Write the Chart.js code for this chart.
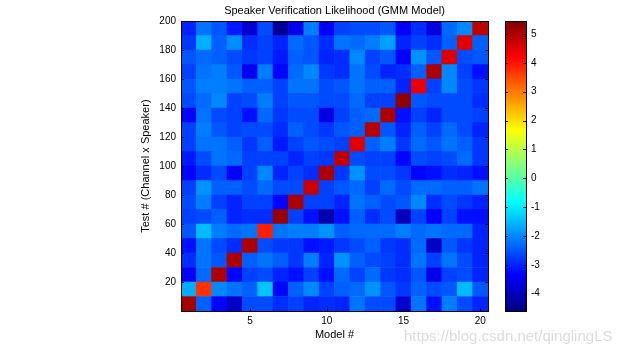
<!DOCTYPE html>
<html>
<head>
<meta charset="utf-8">
<script src="https://cdn.jsdelivr.net/npm/chart.js@4"></script>
<style>
  html, body { margin: 0; padding: 0; background: #fff; }
  #wrap { position: relative; width: 635px; height: 355px; overflow: hidden; }
  #main { position: absolute; left: 0; top: 0; }
  #cbar { position: absolute; left: 495px; top: 0; }
  #mark { position: absolute; left: 404px; top: 327px; font: 15px "Liberation Sans", Arial, sans-serif; color: #dcdcdc; white-space: nowrap; }
</style>
</head>
<body>
<div id="wrap">
  <canvas id="main" width="500" height="355"></canvas>
  <canvas id="cbar" width="140" height="355"></canvas>
  <div id="mark">https://blog.csdn.net/qinglingLS</div>
</div>
<script>
const models = [1, 2, 3, 4, 5, 6, 7, 8, 9, 10, 11, 12, 13, 14, 15, 16, 17, 18, 19, 20];
const channels = 10; // tests per speaker block
const yTicks = [20, 40, 60, 80, 100, 120, 140, 160, 180, 200];
const cbarTicks = [-4, -3, -2, -1, 0, 1, 2, 3, 4, 5];
const cMin = -4.6, cMax = 5.45;

// log-likelihood, one row per speaker block (tests 1-10 first), one value per model
const likelihood = [
  [5.1, -2.4, -3.3, -3.9, -2.6, -2.6, -2.9, -2.7, -3.0, -2.9, -3.0, -2.2, -2.6, -2.6, -3.8, -2.2, -3.2, -2.1, -2.6, -3.0],
  [-1.65, 3.7, -2.0, -2.2, -2.4, -1.4, -3.3, -2.4, -2.0, -2.7, -2.4, -2.3, -1.9, -2.5, -2.8, -2.4, -2.6, -2.5, -1.5, -2.5],
  [-3.4, -2.3, 5.0, -3.3, -2.7, -2.6, -3.0, -3.2, -2.7, -3.2, -2.3, -2.7, -2.3, -2.8, -2.9, -2.5, -3.5, -2.7, -2.6, -3.0],
  [-2.9, -2.2, -2.5, 5.0, -2.4, -2.2, -2.4, -2.8, -2.1, -3.0, -1.9, -2.4, -2.6, -2.7, -2.9, -2.2, -2.7, -2.2, -2.6, -3.0],
  [-3.2, -2.2, -2.6, -2.9, 5.0, -2.6, -2.8, -2.8, -3.2, -3.1, -2.8, -2.6, -2.4, -2.8, -2.9, -2.3, -3.9, -2.5, -2.8, -3.0],
  [-2.5, -1.5, -2.1, -2.3, -2.2, 3.9, -2.2, -2.1, -2.1, -1.9, -2.4, -2.3, -2.3, -2.3, -2.1, -2.3, -2.2, -2.3, -2.3, -3.0],
  [-2.7, -2.6, -2.4, -3.0, -2.9, -2.9, 5.2, -2.7, -3.2, -4.2, -3.2, -2.4, -2.9, -2.6, -4.0, -2.7, -3.4, -2.7, -3.2, -3.2],
  [-2.6, -2.1, -2.7, -3.0, -2.7, -2.7, -3.3, 5.0, -2.7, -2.7, -3.0, -2.2, -2.4, -2.6, -2.5, -2.0, -2.9, -2.6, -2.8, -3.0],
  [-2.7, -1.9, -2.4, -2.4, -2.6, -2.3, -2.6, -2.6, 4.7, -2.7, -2.5, -2.3, -2.7, -2.3, -2.6, -2.3, -2.3, -2.4, -2.4, -2.2],
  [-3.3, -2.9, -2.6, -3.4, -2.7, -2.0, -3.0, -2.7, -2.9, 5.0, -2.8, -1.9, -2.6, -2.6, -2.8, -3.3, -3.2, -2.9, -3.0, -3.2],
  [-3.1, -2.6, -2.2, -2.3, -2.7, -2.7, -2.7, -3.0, -2.7, -2.8, 4.8, -2.6, -2.7, -2.7, -3.3, -2.6, -2.7, -2.6, -2.3, -2.8],
  [-2.7, -2.2, -2.2, -2.4, -2.8, -2.4, -3.1, -2.7, -2.5, -2.6, -2.7, 4.5, -2.4, -2.1, -2.8, -2.3, -2.5, -2.2, -2.4, -2.8],
  [-2.7, -2.1, -2.5, -2.7, -2.6, -2.6, -2.9, -2.4, -2.6, -2.8, -2.5, -2.4, 4.9, -2.5, -3.0, -2.4, -2.7, -2.3, -2.6, -3.0],
  [-3.3, -2.2, -2.6, -2.7, -3.2, -2.3, -2.8, -2.6, -2.6, -3.6, -2.7, -2.4, -2.3, 5.0, -3.2, -2.7, -3.0, -2.6, -2.6, -2.7],
  [-2.6, -2.3, -2.0, -2.7, -2.6, -2.1, -2.7, -2.5, -2.5, -2.6, -2.6, -2.3, -2.7, -2.7, 5.3, -2.5, -2.6, -2.6, -2.6, -2.9],
  [-2.5, -2.1, -2.1, -2.2, -2.4, -2.4, -2.7, -2.2, -2.2, -2.6, -2.5, -2.2, -2.4, -2.4, -3.0, 4.4, -2.7, -2.0, -2.6, -2.8],
  [-2.7, -2.2, -2.1, -2.5, -3.5, -2.1, -3.3, -2.3, -2.0, -2.8, -2.9, -2.2, -2.6, -3.0, -2.9, -2.4, 5.0, -2.0, -2.7, -3.2],
  [-2.5, -2.3, -2.4, -2.6, -2.8, -2.7, -3.1, -2.4, -2.5, -3.0, -2.9, -2.0, -2.7, -2.5, -3.4, -1.9, -2.5, 4.5, -2.6, -2.5],
  [-2.8, -1.6, -2.4, -1.95, -2.9, -2.7, -3.0, -2.3, -2.5, -2.9, -2.2, -2.3, -2.1, -1.75, -3.0, -2.7, -2.9, -2.4, 4.5, -2.4],
  [-3.0, -2.2, -2.5, -3.1, -3.8, -2.6, -4.4, -3.5, -2.1, -3.4, -2.7, -2.6, -2.6, -2.5, -3.4, -2.9, -3.7, -2.3, -2.0, 4.8]
];

const FONT = '"Liberation Sans", Arial, sans-serif';

function jet(v) {
  const t = Math.min(1, Math.max(0, (v - cMin) / (cMax - cMin)));
  const f = x => Math.round(255 * Math.min(1, Math.max(0, x)));
  const r = f(Math.min(4 * t - 1.5, -4 * t + 4.5));
  const g = f(Math.min(4 * t - 0.5, -4 * t + 3.5));
  const b = f(Math.min(4 * t + 0.5, -4 * t + 2.5));
  return `rgb(${r},${g},${b})`;
}

// box round the plot + matlab style inward ticks
const framePlugin = {
  id: 'frame',
  afterDraw(chart, args, opts) {
    const { ctx, chartArea: a } = chart;
    const len = 3;
    ctx.save();
    ctx.strokeStyle = '#000';
    ctx.lineWidth = 1;
    ctx.beginPath();
    (opts.x || []).forEach(v => {
      const px = Math.round(chart.scales.x.getPixelForValue(v)) + 0.5;
      ctx.moveTo(px, a.bottom); ctx.lineTo(px, a.bottom - len);
      ctx.moveTo(px, a.top); ctx.lineTo(px, a.top + len);
    });
    (opts.y || []).forEach(v => {
      const py = Math.round(chart.scales.y.getPixelForValue(v)) + 0.5;
      ctx.moveTo(a.left, py); ctx.lineTo(a.left + len, py);
      ctx.moveTo(a.right, py); ctx.lineTo(a.right - len, py);
    });
    ctx.stroke();
    ctx.strokeRect(Math.round(a.left) + 0.5, Math.round(a.top) + 0.5,
      Math.round(a.right - a.left), Math.round(a.bottom - a.top));
    ctx.restore();
  }
};

new Chart(document.getElementById('main'), {
  type: 'bar',
  data: {
    labels: models,
    datasets: likelihood.map((row, r) => ({
      data: models.map(() => [r * channels, (r + 1) * channels]),
      backgroundColor: row.map(jet),
      borderWidth: 0,
      grouped: false,
      barPercentage: 1,
      categoryPercentage: 1
    }))
  },
  options: {
    responsive: false,
    animation: false,
    events: [],
    layout: { padding: { left: 130, right: 12, top: 0, bottom: 0 } },
    plugins: {
      legend: { display: false },
      tooltip: { enabled: false },
      title: {
        display: true,
        text: 'Speaker Verification Likelihood (GMM Model)',
        fullSize: false,
        color: '#000',
        font: { family: FONT, size: 11, weight: 'normal' },
        padding: { top: 4, bottom: 4 }
      },
      frame: {
        x: [5, 10, 15, 20].map(m => models.indexOf(m)),
        y: yTicks
      }
    },
    scales: {
      x: {
        grid: { display: false, drawTicks: false },
        border: { display: false },
        ticks: {
          autoSkip: false,
          maxRotation: 0,
          padding: 4,
          color: '#000',
          font: { family: FONT, size: 10 },
          callback: (v, i) => (models[i] % 5 === 0 ? models[i] : '')
        },
        title: {
          display: true,
          text: 'Model #',
          color: '#000',
          font: { family: FONT, size: 11 },
          padding: { top: 0, bottom: 13 }
        },
        afterFit: s => { s.height = 44; }
      },
      y: {
        min: 0,
        max: 200,
        grid: { display: false, drawTicks: false },
        border: { display: false },
        ticks: {
          stepSize: 20,
          padding: 5,
          color: '#000',
          font: { family: FONT, size: 10 }
        },
        afterBuildTicks: s => { s.ticks = yTicks.map(v => ({ value: v })); },
        title: {
          display: true,
          text: 'Test # (Channel x Speaker)',
          color: '#000',
          font: { family: FONT, size: 11 },
          padding: { top: 9.4, bottom: 0 }
        },
        afterFit: s => { s.width = 51; }
      }
    }
  },
  plugins: [framePlugin]
});

// colour bar
new Chart(document.getElementById('cbar'), {
  type: 'bar',
  data: {
    labels: [''],
    datasets: [{
      data: [[cMin, cMax]],
      borderWidth: 0,
      barPercentage: 1,
      categoryPercentage: 1,
      backgroundColor: c => {
        const ch = c.chart;
        if (!ch.chartArea) return '#00f';
        const y = ch.scales.y;
        const g = ch.ctx.createLinearGradient(0, y.getPixelForValue(cMin), 0, y.getPixelForValue(cMax));
        for (let k = 0; k <= 64; k++) {
          const t = k / 64;
          g.addColorStop(t, jet(cMin + t * (cMax - cMin)));
        }
        return g;
      }
    }]
  },
  options: {
    responsive: false,
    animation: false,
    events: [],
    layout: { padding: { left: 10, right: 0, top: 21, bottom: 44 } },
    plugins: {
      legend: { display: false },
      tooltip: { enabled: false },
      frame: { y: cbarTicks }
    },
    scales: {
      x: { display: false },
      y: {
        position: 'right',
        min: cMin,
        max: cMax,
        grid: { display: false, drawTicks: false },
        border: { display: false },
        ticks: {
          padding: 5,
          color: '#000',
          font: { family: FONT, size: 10 }
        },
        afterBuildTicks: s => { s.ticks = cbarTicks.map(v => ({ value: v })); },
        afterFit: s => { s.width = 109; }
      }
    }
  },
  plugins: [framePlugin]
});
</script>
</body>
</html>
